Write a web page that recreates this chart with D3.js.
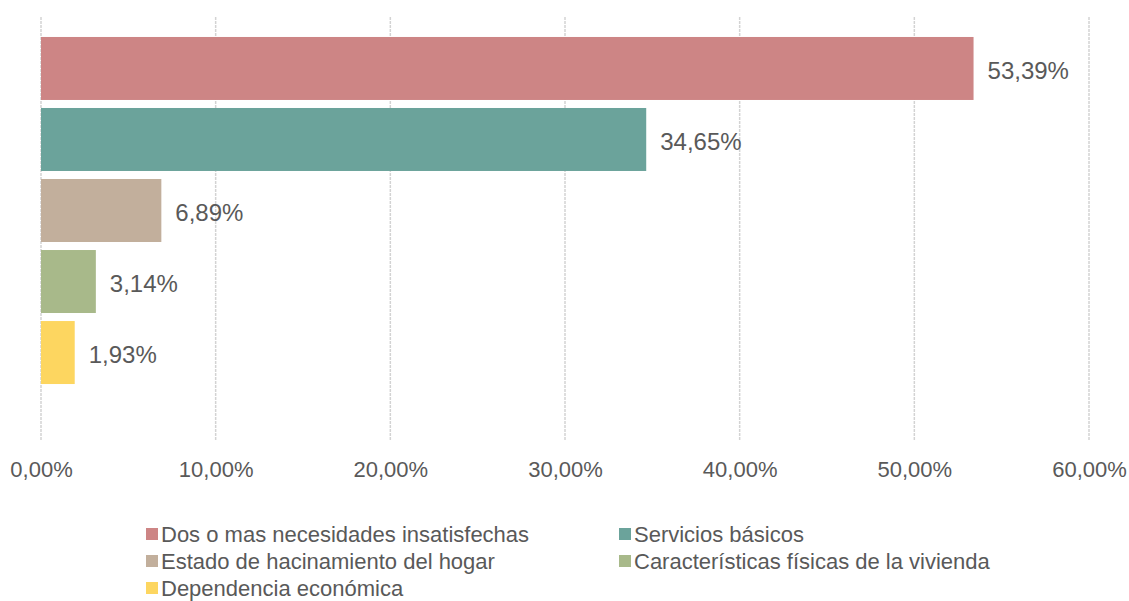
<!DOCTYPE html>
<html><head><meta charset="utf-8">
<script src="https://cdn.jsdelivr.net/npm/d3@7"></script>
<style>body{margin:0;background:#fff}svg text{font-family:"Liberation Sans",Arial,sans-serif;fill:#595959}</style>
</head><body><svg id="c" width="1129" height="601"></svg>
<script>
const categories = ["Dos o mas necesidades insatisfechas","Servicios básicos","Estado de hacinamiento del hogar","Características físicas de la vivienda","Dependencia económica"];
const values = [53.39, 34.65, 6.89, 3.14, 1.93];
const colors = ["#cd8585","#6ba39b","#c2af9c","#a8b98a","#fdd660"];
const tickValues = [0,10,20,30,40,50,60];
const fmt = v => d3.format(".2f")(v).replace(".", ",") + "%";

const svg = d3.select("#c");
const x = d3.scaleLinear().domain([0,60]).range([41,1089]);
const y = d3.scaleBand().domain(categories).range([33,388]).paddingInner(0.113).paddingOuter(0.056);

// gridlines
svg.append("g").selectAll("line").data(tickValues).join("line")
  .attr("x1", d=>x(d)).attr("x2", d=>x(d)).attr("y1",17).attr("y2",440)
  .attr("stroke","#d3d3d3").attr("stroke-width",1.5).attr("stroke-dasharray","3,1");

// axis labels
const ax = d3.axisBottom(x).tickValues(tickValues).tickFormat(fmt).tickSize(0).tickPadding(0);
const axg = svg.append("g").attr("transform","translate(0,469)").call(ax);
axg.select(".domain").remove();
axg.selectAll("text").attr("dy","0.35em").attr("y",0).style("font-size","22px").attr("fill","#595959");

// bars
svg.append("g").selectAll("rect").data(categories).join("rect")
  .attr("x", x(0)).attr("y", d=>y(d)).attr("height", y.bandwidth())
  .attr("width", (d,i)=>x(values[i])-x(0)).attr("fill",(d,i)=>colors[i]);

// labels
svg.append("g").selectAll("text").data(categories).join("text")
  .attr("x",(d,i)=>x(values[i])+14).attr("y",d=>y(d)+y.bandwidth()/2+2).attr("dy","0.35em")
  .style("font-size","24px").text((d,i)=>fmt(values[i]));

// legend
const legPos = [[146,534],[619,534],[146,561],[619,561],[146,588]];
const lg = svg.append("g").selectAll("g").data(categories).join("g")
  .attr("transform",(d,i)=>`translate(${legPos[i][0]},${legPos[i][1]})`);
lg.append("rect").attr("x",0).attr("y",-6).attr("width",12).attr("height",12).attr("fill",(d,i)=>colors[i]);
lg.append("text").attr("x",15).attr("y",0).attr("dy","0.35em").style("font-size","22px").text(d=>d);
</script></body></html>
